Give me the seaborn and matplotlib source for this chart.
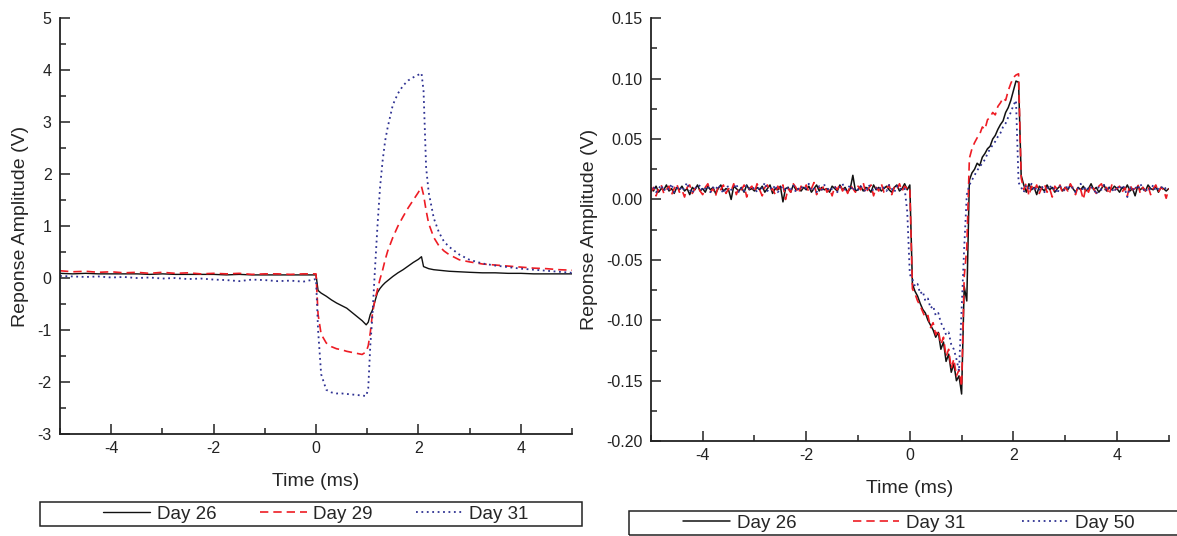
import numpy as np
import pandas as pd
import seaborn as sns
import matplotlib.pyplot as plt
from matplotlib.patches import Rectangle
from matplotlib.ticker import MultipleLocator, FormatStrFormatter

sns.set_style("ticks")
plt.rcParams['font.family'] = ['Liberation Sans', 'DejaVu Sans']
plt.rcParams['axes.unicode_minus'] = False

# ---------------- left panel (V) ----------------
t_left = [-5.0, -4.75, -4.5, -4.25, -4.0, -3.75, -3.5, -3.25, -3.0, -2.75,
          -2.5, -2.25, -2.0, -1.75, -1.5, -1.25, -1.0, -0.75, -0.5, -0.25, 0.0,
          0.04, 0.1, 0.2, 0.3, 0.4, 0.5, 0.6, 0.7, 0.8, 0.9,
          0.98, 1.02, 1.06, 1.1, 1.15, 1.2, 1.25, 1.3, 1.35, 1.4,
          1.5, 1.6, 1.7, 1.8, 1.9, 2.0, 2.06, 2.1, 2.15, 2.2,
          2.3, 2.4, 2.5, 2.6, 2.8, 3.0, 3.25, 3.5, 3.75, 4.0,
          4.25, 4.5, 4.75, 5.0]

day26_left = [0.09, 0.08, 0.09, 0.08, 0.08, 0.08, 0.08, 0.07, 0.08, 0.07,
              0.07, 0.07, 0.07, 0.06, 0.07, 0.06, 0.06, 0.06, 0.06, 0.06, 0.06,
              -0.24, -0.29, -0.35, -0.42, -0.48, -0.53, -0.58, -0.66, -0.74, -0.82,
              -0.90, -0.85, -0.70, -0.62, -0.45, -0.28, -0.20, -0.14, -0.09, -0.05,
              0.03, 0.10, 0.16, 0.23, 0.30, 0.36, 0.41, 0.22, 0.20, 0.18,
              0.16, 0.15, 0.14, 0.13, 0.12, 0.11, 0.10, 0.10, 0.09, 0.09,
              0.08, 0.08, 0.08, 0.08]

day29_left = [0.14, 0.12, 0.13, 0.11, 0.12, 0.10, 0.11, 0.09, 0.11, 0.09,
              0.10, 0.08, 0.09, 0.08, 0.09, 0.07, 0.08, 0.08, 0.07, 0.08, 0.08,
              -0.70, -1.08, -1.25, -1.32, -1.36, -1.38, -1.41, -1.43, -1.45, -1.47,
              -1.42, -1.30, -1.05, -0.70, -0.42, -0.22, -0.02, 0.15, 0.35, 0.52,
              0.78, 1.00, 1.18, 1.35, 1.50, 1.65, 1.76, 1.60, 1.30, 1.05,
              0.78, 0.62, 0.52, 0.45, 0.35, 0.31, 0.27, 0.25, 0.23, 0.21,
              0.19, 0.18, 0.16, 0.15]

day31_left = [0.04, 0.03, 0.02, 0.03, 0.01, 0.02, 0.00, 0.01, -0.01, 0.00,
              -0.02, -0.01, -0.03, -0.04, -0.06, -0.03, -0.04, -0.06, -0.05, -0.07, -0.02,
              -1.00, -1.85, -2.15, -2.20, -2.22, -2.22, -2.23, -2.24, -2.25, -2.26,
              -2.27, -2.12, -1.30, -0.75, 0.15, 1.00, 1.74, 2.25, 2.64, 2.90,
              3.33, 3.55, 3.70, 3.80, 3.86, 3.91, 3.94, 3.60, 2.13, 1.65,
              1.15, 0.88, 0.70, 0.60, 0.45, 0.35, 0.28, 0.24, 0.21, 0.18,
              0.16, 0.14, 0.12, 0.10]

# ---------------- right panel (mV, sampled every 0.05 ms) ----------------
t_right = np.round(np.linspace(-5, 5, 201), 2)

day26_right_mv = [
    10, 7, 11, 6, 9, 8, 12, 7, 9, 5,
    10, 8, 11, 7, 9, 4, 10, 8, 12, 7,
    9, 6, 11, 8, 10, 5, 9, 12, 7, 9,
    8, 0, 11, 9, 7, 10, 6, 12, 8, 9,
    7, 10, 8, 11, 6, 9, 12, 5, 9, 8,
    11, -2, 9, 10, 6, 12, 8, 9, 7, 10,
    8, 11, 6, 9, 12, 7, 10, 8, 9, 6,
    11, 9, 7, 12, 8, 10, 6, 9, 20, 7,
    8, 11, 7, 10, 9, 6, 12, 8, 10, 7,
    9, 11, 8, 6, 10, 12, 7, 9, 13, 8,
    12,
    -70, -76, -80, -86, -91, -94, -100, -104, -108, -114,
    -110, -124, -118, -134, -128, -143, -136, -150, -146, -161,
    -72, -84, 16, 22, 25, 30, 28, 35, 38, 42,
    44, 50, 53, 58, 62, 65, 72, 76, 82, 90,
    98, 97, 20, 12, 6, 13, 8, 10, 4, 11,
    9, 7, 12, 8, 10, 6, 9, 11, 7, 10,
    8, 12, 9, 6, 10, 8, 11, 7, 9, 13,
    8, 10, 6, 9, 12, 7, 10, 8, 11, 9,
    6, 10, 8, 12, 7, 9, 3, 11, 8, 10,
    7, 12, 9, 8, 11, 6, 10, 9, 7, 9]

day31_right_mv = [
    6, 10, 3, 9, 12, 5, 8, 11, 4, 9,
    13, 6, 8, 2, 10, 12, 5, 9, 11, 7,
    4, 10, 13, 6, 9, 3, 11, 8, 12, 5,
    9, 7, 13, 4, 10, 8, 12, 2, 9, 11,
    6, 13, 8, 3, 10, 12, 7, 9, 4, 11,
    8, 12, 0, 9, 6, 13, 10, 5, 11, 8,
    12, 6, 9, 14, 4, 10, 8, 12, 6, 9,
    3, 11, 8, 13, 7, 10, 5, 12, 9, 6,
    11, 8, 14, 5, 9, 12, 3, 10, 7, 13,
    6, 9, 12, 4, 10, 8, 13, 7, 11, 9,
    10,
    -74, -78, -84, -88, -93, -98, -96, -106, -102, -112,
    -108, -120, -114, -130, -124, -140, -132, -146, -141, -155,
    -64, -40, 34, 42, 47, 51, 54, 60, 58, 66,
    68, 72, 70, 77, 80, 84, 82, 90, 96, 101,
    103, 104, 18, 8, 14, 3, 11, 7, 12, 5,
    10, 13, 6, 9, 2, 11, 8, 12, 5, 10,
    7, 13, 9, 4, 11, 8, 0, 10, 6, 12,
    9, 5, 11, 13, 7, 10, 4, 12, 8, 9,
    11, 6, 10, 3, 12, 8, 9, 13, 5, 10,
    7, 11, 4, 9, 12, 6, 10, 8, 1, 9]

day50_right_mv = [
    8, 11, 6, 9, 12, 7, 10, 8, 13, 6,
    9, 11, 7, 10, 14, 8, 5, 10, 9, 12,
    7, 9, 11, 6, 10, 8, 12, 9, 5, 10,
    11, 8, 9, 13, 6, 10, 7, 12, 9, 8,
    10, 6, 11, 9, 14, 7, 10, 8, 12, 6,
    9, 11, 7, 10, 8, 12, 6, 9, 11, 8,
    10, 13, 7, 9, 6, 11, 8, 12, 10, 7,
    9, 11, 6, 10, 13, 8, 9, 12, 7, 10,
    8, 11, 9, 6, 12, 10, 7, 9, 11, 8,
    10, 7, 12, 9, 6, 11, 8, 10, 9, -10,
    -62,
    -66, -72, -70, -78, -76, -84, -82, -90, -88, -96,
    -94, -102, -106, -112, -110, -120, -124, -132, -142, -90,
    -40, 4, 12, 16, 20, 24, 27, 30, 33, 38,
    42, 45, 48, 52, 55, 60, 63, 68, 72, 78,
    82, 14, 10, 6, 12, 9, 13, 7, 10, 8,
    11, 6, 9, 12, 8, 10, 5, 11, 9, 7,
    12, 8, 10, 6, 9, 13, 7, 11, 8, 10,
    9, 4, 11, 8, 12, 7, 10, 9, 6, 11,
    8, 12, 9, 2, 10, 7, 11, 8, 13, 9,
    6, 10, 8, 12, 7, 9, 11, 8, 10, 9]

BLACK = "#111111"
RED = "#ee1c24"
BLUE = "#2e3192"
SOLID = "-"
DASHED = (0, (5, 3))
DOTTED = (0, (1, 2))


def style_axes(ax, xminor, yminor):
    ax.set_facecolor("none")
    sns.despine(ax=ax)
    for side in ("left", "bottom"):
        ax.spines[side].set_linewidth(1.3)
        ax.spines[side].set_color("#222222")
    ax.xaxis.set_major_locator(MultipleLocator(2))
    ax.xaxis.set_minor_locator(MultipleLocator(xminor))
    ax.yaxis.set_minor_locator(MultipleLocator(yminor))
    ax.tick_params(which="both", direction="in", colors="#222222",
                   labelcolor="#222222", labelsize=11.5, width=1.1)
    ax.tick_params(which="major", length=7)
    ax.tick_params(which="minor", length=4)
    ax.tick_params(axis="y", pad=6)
    ax.tick_params(axis="x", pad=5)
    ax.set_xlim(-5, 5)
    ax.set_xlabel("Time (ms)", fontsize=14, labelpad=12)
    ax.set_ylabel("Reponse Amplitude (V)", fontsize=14, labelpad=6)


fig = plt.figure(figsize=(11.77, 5.36), dpi=100)

ax1 = fig.add_axes([0.051, 0.1903, 0.435, 0.776])
ax2 = fig.add_axes([0.553, 0.177, 0.440, 0.789])

left_series = [("Day 26", day26_left, BLACK, SOLID, 1.0),
               ("Day 29", day29_left, RED, DASHED, 1.2),
               ("Day 31", day31_left, BLUE, DOTTED, 1.3)]
for name, vals, col, ls, lw in left_series:
    sns.lineplot(x=t_left, y=vals, ax=ax1, color=col, linestyle=ls,
                 linewidth=lw, label=name, estimator=None, sort=False)

right_series = [("Day 26", day26_right_mv, BLACK, SOLID, 1.1),
                ("Day 31", day31_right_mv, RED, DASHED, 1.2),
                ("Day 50", day50_right_mv, BLUE, DOTTED, 1.3)]
for name, vals, col, ls, lw in right_series:
    volts = np.array(vals) / 1000.0
    sns.lineplot(x=t_right, y=volts, ax=ax2, color=col, linestyle=ls,
                 linewidth=lw, label=name, estimator=None, sort=False)

style_axes(ax1, 1, 0.5)
ax1.set_ylim(-3, 5)
ax1.yaxis.set_major_locator(MultipleLocator(1))

style_axes(ax2, 1, 0.025)
ax2.set_ylim(-0.2, 0.15)
ax2.yaxis.set_major_locator(MultipleLocator(0.05))
ax2.yaxis.set_major_formatter(FormatStrFormatter("%.2f"))

# legend boxes under each panel (frame drawn separately, in figure pixels)
W, H = 1177, 536
legend_boxes = [(ax1, (40, 502, 542, 24), 316, 2.3),
                (ax2, (629, 511, 560, 24), 909, 3.0)]
for ax, (x0, y0, bw, bh), xc, colsp in legend_boxes:
    h, l = ax.get_legend_handles_labels()
    ax.get_legend().remove()
    fig.patches.append(Rectangle((x0 / W, 1 - (y0 + bh) / H), bw / W, bh / H,
                                 transform=fig.transFigure, fill=False,
                                 edgecolor="#222222", linewidth=1.1))
    fig.legend(h, l, loc="center", bbox_to_anchor=(xc / W, 1 - (y0 + bh / 2) / H),
               ncol=3, frameon=False, fontsize=13.5, handlelength=2.5,
               handletextpad=0.35, columnspacing=colsp, borderpad=0,
               borderaxespad=0)

fig.savefig("out.png", dpi=100)
